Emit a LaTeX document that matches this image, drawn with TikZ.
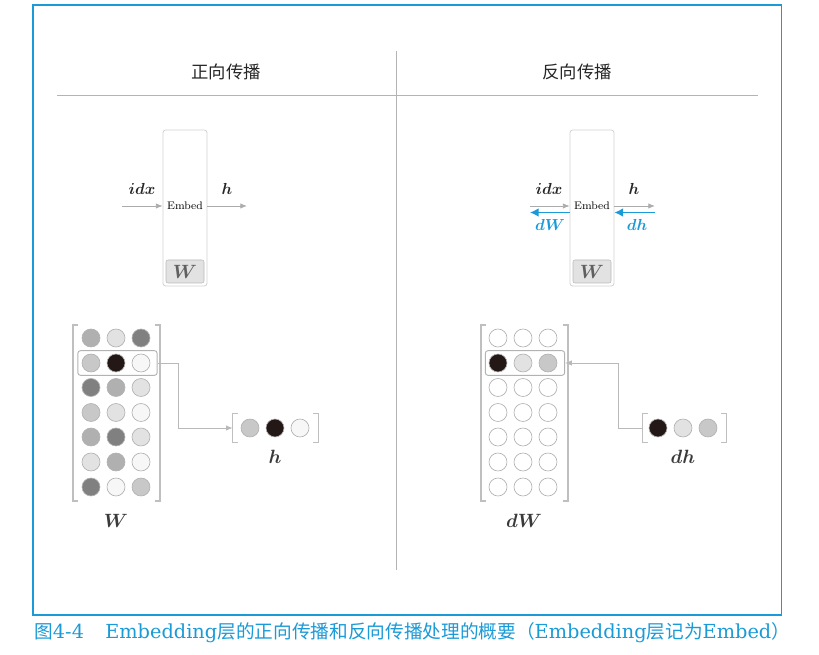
\documentclass[tikz,border=0pt]{standalone}
\usepackage{fontspec}
\usepackage{amsmath}
\usepackage{bm}
\newfontfamily\cjk{Noto Sans CJK SC}
\newfontfamily\capserif{DejaVu Serif}
\usetikzlibrary{arrows.meta}
\definecolor{capblue}{HTML}{1A9AD6}
\definecolor{sepgray}{HTML}{B4B4B4}
\definecolor{cA}{HTML}{B0B0B0}
\definecolor{cB}{HTML}{E2E2E2}
\definecolor{cC}{HTML}{808080}
\definecolor{cD}{HTML}{C8C8C8}
\definecolor{cK}{HTML}{231815}
\definecolor{cW}{HTML}{F7F7F7}
\definecolor{cE}{HTML}{FFFFFF}
\definecolor{lbl}{HTML}{3A3A3A}
\newcommand\capcjk[1]{{\cjk\fontsize{14}{16}\selectfont #1}}
\tikzset{
  sepline/.style={draw=sepgray, line width=0.75pt},
  embedbox/.style={draw=gray!35, rounded corners=2pt, fill=white, minimum width=33pt, minimum height=117pt, inner sep=0pt, line width=0.6pt},
  wbox/.style={draw=gray!55, rounded corners=1.5pt, fill=cB, minimum width=28.5pt, minimum height=17.25pt, inner sep=0pt, text=gray!75!black, font=\fontsize{14}{16}\selectfont},
  garrow/.style={draw=gray!65, line width=0.6pt, -{Latex[length=5pt,width=4pt]}},
  barrow/.style={draw=capblue, line width=1pt, -{Latex[length=6.5pt,width=6.5pt]}},
  cell/.style={circle, draw=gray!60, minimum size=13.5pt, inner sep=0pt, line width=0.5pt},
  hl/.style={draw=gray!60, rounded corners=2pt, minimum width=59.5pt, minimum height=18.5pt, inner sep=0pt, line width=0.7pt},
  brk/.style={draw=gray!50, line width=0.8pt},
  connarr/.style={draw=gray!55, line width=0.6pt, -{Latex[length=5pt,width=4pt]}},
  mlabel/.style={text=lbl, font=\fontsize{14.5}{16}\selectfont},
  alabel/.style={text=black!85, font=\fontsize{13}{15}\selectfont},
  blabel/.style={text=capblue, font=\fontsize{12.5}{14}\selectfont},
  embtext/.style={font=\fontsize{8.2}{9}\selectfont, text=black},
  title/.style={font=\cjk\fontsize{13}{15}\selectfont, text=black!85},
}
\begin{document}
\begin{tikzpicture}[x=0.75pt,y=-0.75pt]
\useasboundingbox (0,0) rectangle (819,655);
% frame
\draw[draw=capblue, line width=0.8pt] (33,5) rectangle (781.5,615);
% separators
\coordinate (vtop) at (396,51);
\coordinate (vbot) at (396,570);
\coordinate (hl1) at (57,96);
\coordinate (hl2) at (758,96);
\draw[sepline] (vtop) -- (vbot);
\draw[sepline] (hl1) -- (hl2);
% titles
\node[title] (t1) at (226,72) {正向传播};
\node[title] (t2) at (577,72) {反向传播};

% ===== Forward: embed box
\node[embedbox] (embL) at (185,208) {};
\node[embtext] (embLt) at (185,206) {Embed};
\node[wbox] (wL) at (185,271.5) {$\bm{W}$};
\coordinate (idxLs) at (122,206);
\coordinate (hLe) at (247,206);
\draw[garrow] (idxLs) -- (idxLs -| embL.west);
\draw[garrow] (hLe -| embL.east) -- (hLe);
\node[alabel] (idxL) at (142,189) {$\bm{idx}$};
\node[alabel] (hLl) at (227,189) {$\bm{h}$};

% ===== Backward: embed box
\node[embedbox] (embR) at (592,208) {};
\node[embtext] (embRt) at (592,206) {Embed};
\node[wbox] (wR) at (592,271.5) {$\bm{W}$};
\coordinate (idxRs) at (530,206);
\coordinate (hRe) at (655,206);
\coordinate (dWe) at (530,212.5);
\coordinate (dhs) at (655,212.5);
\draw[garrow] (idxRs) -- (idxRs -| embR.west);
\draw[garrow] (hRe -| embR.east) -- (hRe);
\draw[barrow] (dWe -| embR.west) -- (dWe);
\draw[barrow] (dhs) -- (dhs -| embR.east);
\node[alabel] (idxR) at (549,189) {$\bm{idx}$};
\node[alabel] (hRl) at (634,189) {$\bm{h}$};
\node[blabel] (dWl) at (550,225) {$\bm{dW}$};
\node[blabel] (dhl) at (637,225) {$\bm{dh}$};

% ===== Forward W matrix
\foreach \r/\y/\a/\b/\c in {1/338/cA/cB/cC, 2/363/cD/cK/cW, 3/387.5/cC/cA/cB, 4/412.5/cD/cB/cW, 5/437/cA/cC/cB, 6/462/cB/cA/cW, 7/487/cC/cW/cD}{
  \node[cell, fill=\a] (L-\r-1) at (91,\y) {};
  \node[cell, fill=\b] (L-\r-2) at (116,\y) {};
  \node[cell, fill=\c] (L-\r-3) at (141,\y) {};
}
\draw[brk] (78,325) -- (73,325) -- (73,501) -- (78,501);
\draw[brk] (155,325) -- (160,325) -- (160,501) -- (155,501);
\node[hl] (hlL) at (117.5,363) {};
\node[mlabel] (WL) at (116,521) {$\bm{W}$};
% h vector
\node[minimum width=63.75pt, minimum height=21pt, inner sep=0pt] (hvec) at (275.5,428) {};
\draw[brk] ([xshift=3.75pt]hvec.north west) -- (hvec.north west) -- (hvec.south west) -- ([xshift=3.75pt]hvec.south west);
\draw[brk] ([xshift=-3.75pt]hvec.north east) -- (hvec.north east) -- (hvec.south east) -- ([xshift=-3.75pt]hvec.south east);
\node[cell, fill=cD] (h1) at (250,428) {};
\node[cell, fill=cK] (h2) at (275,428) {};
\node[cell, fill=cW] (h3) at (300,428) {};
\node[mlabel] (hL) at (275,457) {$\bm{h}$};
\draw[connarr] (hlL.east) -- ++(21,0) |- (hvec.west);

% ===== Backward dW matrix
\foreach \r/\y/\a/\b/\c in {1/338/cE/cE/cE, 2/363/cK/cB/cD, 3/387.5/cE/cE/cE, 4/412.5/cE/cE/cE, 5/437/cE/cE/cE, 6/462/cE/cE/cE, 7/487/cE/cE/cE}{
  \node[cell, fill=\a] (R-\r-1) at (498,\y) {};
  \node[cell, fill=\b] (R-\r-2) at (523,\y) {};
  \node[cell, fill=\c] (R-\r-3) at (548,\y) {};
}
\draw[brk] (486,325) -- (481,325) -- (481,501) -- (486,501);
\draw[brk] (563,325) -- (568,325) -- (568,501) -- (563,501);
\node[hl] (hlR) at (525,363) {};
\node[mlabel] (WR) at (524,521) {$\bm{dW}$};
% dh vector
\node[minimum width=62.25pt, minimum height=21pt, inner sep=0pt] (dhvec) at (684.5,428) {};
\draw[brk] ([xshift=3.75pt]dhvec.north west) -- (dhvec.north west) -- (dhvec.south west) -- ([xshift=3.75pt]dhvec.south west);
\draw[brk] ([xshift=-3.75pt]dhvec.north east) -- (dhvec.north east) -- (dhvec.south east) -- ([xshift=-3.75pt]dhvec.south east);
\node[cell, fill=cK] (d1) at (658,428) {};
\node[cell, fill=cB] (d2) at (683,428) {};
\node[cell, fill=cD] (d3) at (708,428) {};
\node[mlabel] (dhL) at (683,457) {$\bm{dh}$};
\draw[connarr] (dhvec.west) -- ++(-24,0) |- (hlR.east);

% caption
\node[anchor=west, text=capblue, inner sep=0pt, font=\capserif\fontsize{14.5}{16}\selectfont] (cap) at (34,633)
  {\capcjk{图}4-4\hspace{1.1em}Embedding\capcjk{层的正向传播和反向传播处理的概要（}Embedding\capcjk{层记为}Embed\capcjk{）}};
\end{tikzpicture}
\end{document}
